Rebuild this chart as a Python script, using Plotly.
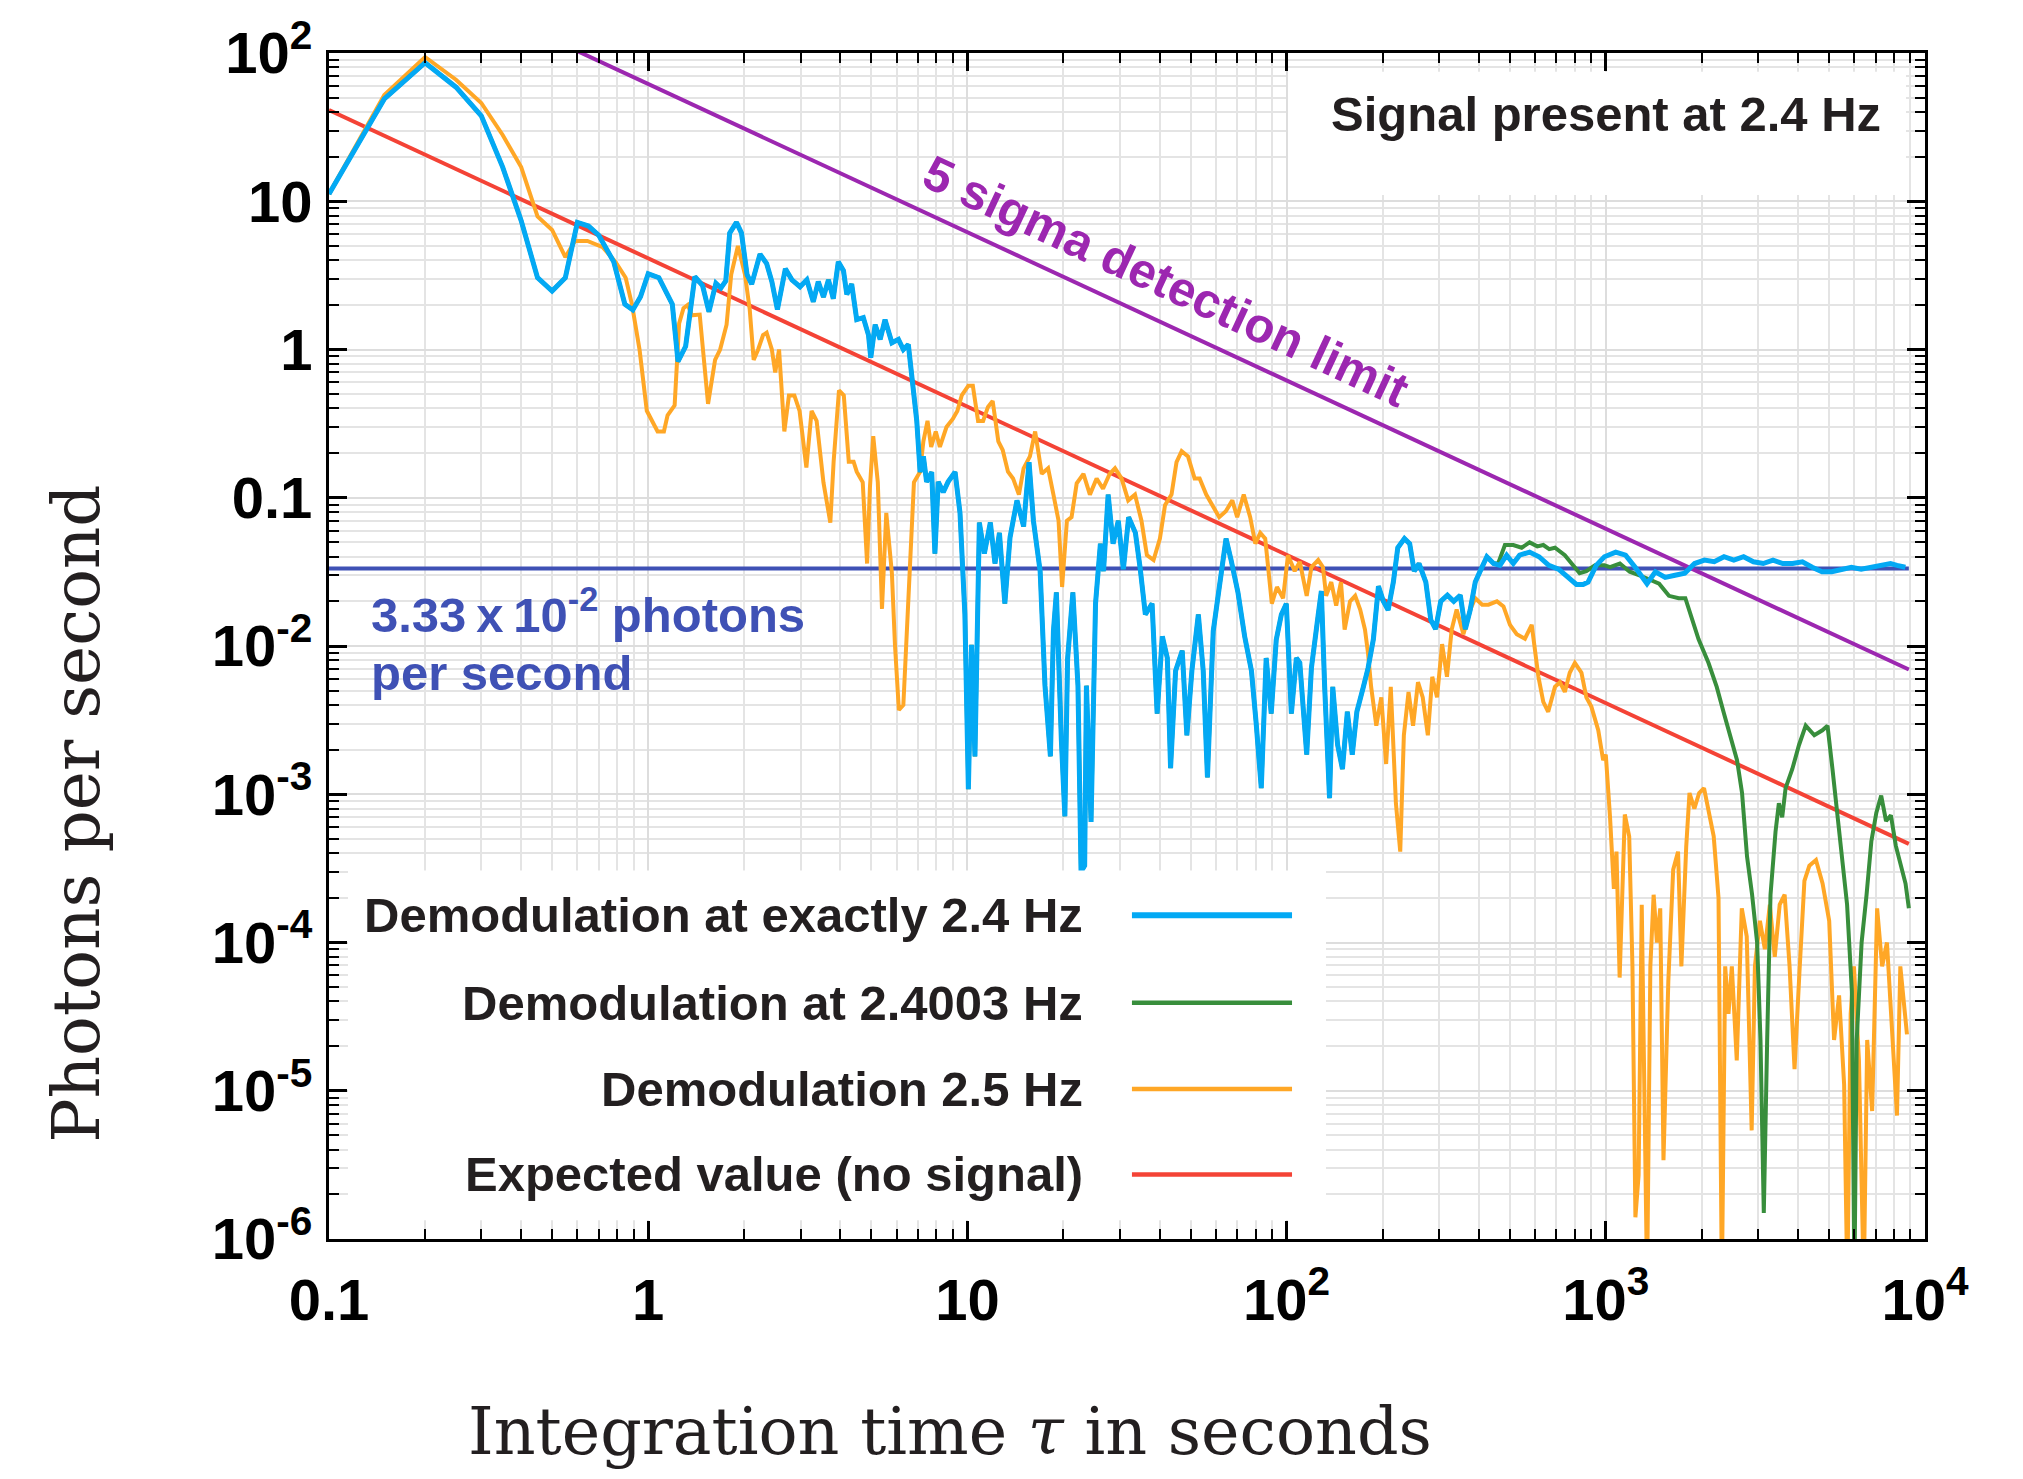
import plotly.graph_objects as go

# ---------------- data ----------------
blue_tau = [0.1, 0.149, 0.2, 0.25, 0.30, 0.35, 0.40, 0.45, 0.50, 0.55, 0.60, 0.65, 0.70, 0.78, 0.845, 0.895,
            0.946, 1.0, 1.08, 1.19, 1.24, 1.31, 1.40, 1.48, 1.55, 1.63, 1.69, 1.75,
            1.80, 1.89, 1.96, 2.04, 2.11, 2.24, 2.35, 2.44, 2.54, 2.69, 2.82, 2.99, 3.14, 3.29, 3.41, 3.54,
            3.67, 3.80, 3.94, 4.09, 4.19, 4.34, 4.50, 4.72, 4.90, 4.98, 5.14, 5.33, 5.52, 5.80, 6.08, 6.30,
            6.53, 6.70, 6.94, 7.11, 7.28, 7.45, 7.73, 7.91, 8.1, 8.4, 8.7, 9.15, 9.48, 9.82, 10.07, 10.3,
            10.56, 10.9, 11.3, 11.8, 12.2, 12.6, 13.1, 13.6, 14.3, 15.0, 15.6, 16.1, 16.9, 17.5, 18.2, 18.6,
            19.0, 19.7, 20.2, 20.6, 21.4, 22.2, 22.7, 23.3, 23.6, 24.4, 25.2, 26.1, 26.7, 27.6, 28.6, 29.7,
            30.8, 32.0, 33.6, 34.8, 36.1, 37.9, 39.3, 40.8, 42.3, 43.3, 44.9, 47.1, 48.7, 50.5, 52.9, 54.8,
            56.5, 58.9, 61.7, 64.6, 67.0, 70.4, 73.9, 77.6, 80.3, 83.3, 86.3, 89.5, 92.8, 96.3, 99.8, 103.5,
            107.3, 110, 115.6, 119.6, 125.6, 128.5, 131.6, 136.3, 139.5, 144.5, 149.6, 155, 160.6, 166, 174,
            180, 187, 194, 201, 208, 216, 223, 234, 243, 251, 260, 273, 283, 293, 304, 319, 334, 350, 363,
            376, 390, 404, 424, 445, 466, 489, 513, 537, 577, 618, 663, 711, 762, 809, 849, 880, 933, 990,
            1074, 1153, 1236, 1346, 1430, 1535, 1648, 1768, 1898, 2037, 2186, 2346, 2518, 2702, 2900, 3113,
            3341, 3585, 3848, 4130, 4432, 4757, 5105, 5479, 5880, 6311, 6773, 7269, 7801, 8172, 8680]
blue_val = [11.2, 49, 86, 58.8, 37.7, 17, 7.4, 3.05, 2.48, 3.05, 7.2, 6.8, 5.9, 3.9, 2.02, 1.85,
            2.27, 3.24, 3.05, 2.02, 0.83, 1.05, 3.1, 2.7, 1.8, 2.8, 2.6, 2.9,
            6.1, 7.2, 6.1, 3.2, 2.76, 4.4, 3.8, 2.87, 1.86, 3.5, 2.95, 2.65, 2.95, 2.1, 2.87, 2.26,
            2.95, 2.2, 3.9, 3.4, 2.35, 2.76, 1.59, 1.64, 1.25, 0.88, 1.47, 1.17, 1.59, 1.11, 1.17, 1.0,
            1.08, 0.62, 0.33, 0.149, 0.19, 0.128, 0.149, 0.042, 0.128, 0.109, 0.128, 0.149, 0.079, 0.0164, 0.00108, 0.0102,
            0.0018, 0.068, 0.042, 0.068, 0.036, 0.058, 0.0193, 0.054, 0.096, 0.064, 0.174, 0.07, 0.032, 0.0054, 0.0018, 0.0126,
            0.023, 0.0023, 0.00071, 0.0082, 0.023, 0.0054, 0.0003, 0.00033, 0.0054, 0.00065, 0.0193, 0.049, 0.032, 0.105, 0.049, 0.07,
            0.033, 0.074, 0.058, 0.033, 0.0163, 0.0193, 0.0035, 0.0116, 0.0083, 0.0015, 0.0068, 0.0093, 0.0025, 0.0068, 0.0163, 0.0068,
            0.0013, 0.0126, 0.027, 0.053, 0.038, 0.023, 0.0116, 0.0068, 0.003, 0.0011, 0.0083, 0.0035, 0.011, 0.0163, 0.0193, 0.0035,
            0.0083, 0.0077, 0.00185, 0.0071, 0.0162, 0.0235, 0.0053, 0.00094, 0.0053, 0.00215, 0.00148, 0.0036, 0.00185, 0.0036, 0.0053,
            0.0071, 0.0111, 0.0253, 0.02, 0.0175, 0.027, 0.046, 0.053, 0.049, 0.032, 0.036, 0.027, 0.015, 0.013, 0.02, 0.022, 0.02, 0.022, 0.013,
            0.0175, 0.027, 0.032, 0.04, 0.036, 0.035, 0.041, 0.036, 0.041, 0.043, 0.04, 0.035, 0.033, 0.029, 0.026, 0.026, 0.027, 0.035, 0.04,
            0.043, 0.041, 0.034, 0.0263, 0.0317, 0.029, 0.03, 0.031, 0.036, 0.038, 0.037, 0.04, 0.038, 0.04, 0.037, 0.036,
            0.038, 0.036, 0.036, 0.037, 0.034, 0.0317, 0.0317, 0.033, 0.034, 0.033, 0.034, 0.035, 0.036, 0.035, 0.034]

# 2.4003 Hz coincides with the 2.4 Hz curve up to ~450 s, then departs
green_split_tau = 450
green_tail_tau = [460, 483, 513, 545, 577, 610, 637, 665, 693, 744, 781, 828, 869, 925, 990, 1031, 1107, 1188,
                  1275, 1369, 1469, 1577, 1692, 1775, 1840, 1953, 2097, 2226, 2337, 2454, 2577, 2672, 2770,
                  2873, 2979, 3052, 3126, 3203, 3281, 3402, 3485, 3570, 3658, 3840, 4030, 4230, 4500, 4770,
                  4950, 5130, 5310, 5500, 5700, 5900, 6010, 6110, 6330, 6560, 6790, 7040, 7290, 7550, 7820,
                  8100, 8390, 8690, 8900]
green_tail_val = [0.036, 0.048, 0.048, 0.046, 0.05, 0.047, 0.048, 0.045, 0.046, 0.041, 0.036, 0.031, 0.032, 0.035,
                  0.035, 0.034, 0.036, 0.0317, 0.03, 0.028, 0.0263, 0.0218, 0.021, 0.021, 0.0168, 0.0111, 0.0077,
                  0.0053, 0.0036, 0.0025, 0.0017, 0.00102, 0.00038, 0.00021, 1.0e-4, 2.2e-5, 1.5e-6, 2.2e-5,
                  0.00021, 0.00056, 0.00087, 0.0007, 0.0011, 0.00148, 0.00215, 0.0029, 0.0025, 0.0027, 0.0029,
                  0.00148, 0.00075, 0.00041, 0.00018, 4.7e-5, 5e-7, 2.2e-5, 1e-4, 0.00021, 0.00048, 0.00075,
                  0.00098, 0.00066, 0.00072, 0.00045, 0.00033, 0.00025, 0.00017]

orange_tau = [0.1, 0.149, 0.2, 0.25, 0.30, 0.35, 0.40, 0.45, 0.50, 0.55, 0.59, 0.645, 0.72, 0.79, 0.85, 0.89,
              0.94, 0.99, 1.07, 1.12, 1.15, 1.21, 1.25, 1.29, 1.33, 1.37, 1.45, 1.54, 1.62, 1.68, 1.76, 1.82,
              1.91, 2.01, 2.08, 2.14, 2.21, 2.29, 2.35, 2.44, 2.50, 2.57, 2.67, 2.76, 2.87, 2.98, 3.13, 3.25,
              3.37, 3.54, 3.72, 3.81, 3.96, 4.1, 4.25, 4.4, 4.5, 4.7, 4.85, 4.95, 5.07, 5.24, 5.4, 5.57, 5.8,
              5.93, 6.1, 6.3, 6.5, 6.7, 6.8, 7.1, 7.28, 7.5, 7.7, 7.96, 8.2, 8.6, 9.0, 9.3, 9.6, 10.07, 10.4,
              10.8, 11.2, 11.6, 12.0, 12.5, 12.9, 13.4, 13.9, 14.5, 15.0, 15.7, 16.3, 17.1, 17.9, 18.6, 19.3,
              19.8, 20.5, 21.2, 22.0, 23.1, 24.2, 25.4, 26.6, 27.9, 29.0, 30.4, 31.9, 33.5, 35.1, 36.5, 38.3,
              40.1, 41.6, 43.6, 45.2, 46.9, 49.1, 51.5, 53.4, 56.0, 58.7, 61.5, 64.5, 67.6, 70.0, 73.4, 76.9,
              79.8, 82.7, 85.7, 89.9, 93.3, 97.5, 101, 106, 110, 115.6, 119.6, 125.6, 130, 133, 138, 143, 148,
              152, 158, 164, 170, 176, 180, 184, 191, 198, 205, 212, 220, 227, 233, 241, 249, 258, 267, 277,
              286, 296, 307, 318, 329, 341, 358, 376, 390, 410, 429, 456, 478, 501, 526, 558, 586, 615, 637,
              660, 693, 718, 744, 771, 800, 839, 869, 901, 947, 981, 1000, 1031, 1060, 1080, 1105, 1147, 1184,
              1212, 1238, 1267, 1296, 1347, 1379, 1412, 1446, 1481, 1516, 1570, 1626, 1684, 1725, 1786, 1829,
              1894, 1961, 2031, 2103, 2178, 2255, 2310, 2366, 2423, 2482, 2572, 2667, 2764, 2864, 2932, 3040,
              3150, 3265, 3383, 3506, 3633, 3765, 3902, 4044, 4190, 4343, 4554, 4776, 5010, 5190, 5380, 5580,
              5710, 5850, 5990, 6210, 6430, 6590, 6830, 7080, 7340, 7600, 7880, 8170, 8370, 8580, 8780]
orange_val = [11.2, 52, 94, 66, 46, 28, 17, 7.9, 6.4, 4.2, 5.4, 5.4, 4.9, 3.9, 3.05, 2.0,
              0.99, 0.386, 0.28, 0.28, 0.36, 0.42, 1.5, 1.9, 2.0, 1.7, 1.72, 0.43, 0.85, 1.0, 1.47, 3.2,
              5.0, 3.2, 1.86, 0.85, 1.0, 1.25, 1.3, 1.0, 0.70, 1.0, 0.28, 0.49, 0.49, 0.385, 0.16, 0.385,
              0.33, 0.127, 0.068, 0.175, 0.53, 0.49, 0.175, 0.175, 0.15, 0.127, 0.036, 0.117, 0.26, 0.127, 0.0178, 0.079, 0.031,
              0.0102, 0.0037, 0.004, 0.0164, 0.068, 0.127, 0.149, 0.24, 0.33, 0.22, 0.28, 0.22, 0.3, 0.34, 0.385, 0.49, 0.57, 0.57,
              0.33, 0.33, 0.41, 0.45, 0.24, 0.21, 0.15, 0.135, 0.105, 0.158, 0.19, 0.28, 0.145, 0.158, 0.105, 0.07,
              0.025, 0.07, 0.074, 0.125, 0.145, 0.105, 0.135, 0.115, 0.145, 0.158, 0.135, 0.096, 0.105, 0.07, 0.041, 0.038,
              0.053, 0.089, 0.105, 0.174, 0.206, 0.19, 0.135, 0.135, 0.105, 0.089, 0.074, 0.081, 0.096, 0.074, 0.105, 0.074,
              0.049, 0.058, 0.053, 0.0193, 0.025, 0.021, 0.041, 0.032, 0.037, 0.0218, 0.034, 0.038, 0.034, 0.0218, 0.027, 0.0187, 0.027,
              0.0129, 0.02, 0.0218, 0.0176, 0.0129, 0.0089, 0.0053, 0.0029, 0.0045, 0.0016, 0.0053, 0.00087, 0.00041, 0.0025, 0.0049, 0.0029, 0.0057, 0.0045, 0.0025,
              0.0062, 0.0045, 0.0103, 0.0062, 0.0129, 0.0176, 0.012, 0.0176, 0.021, 0.019, 0.019, 0.02, 0.0185, 0.0139, 0.012, 0.0112, 0.0139, 0.0062, 0.0042,
              0.0036, 0.0053, 0.0057, 0.0049, 0.0066, 0.0077, 0.0066, 0.0045, 0.0039, 0.0027, 0.0017, 0.00185, 0.0007, 0.00023, 0.00041, 5.8e-5, 0.00073, 0.00052,
              6.9e-5, 1.4e-6, 2.7e-6, 0.00018, 5e-7, 6.9e-5, 0.00021, 1e-4, 0.00017, 3.4e-6, 5.5e-5, 0.00031, 0.00041, 6.9e-5, 0.00044, 0.00102,
              0.0008, 0.00102, 0.0011, 0.00075, 0.00052, 0.0002, 5e-7, 6.9e-5, 3.3e-5, 6.9e-5, 1.6e-5, 0.00017, 1.1e-4, 5.4e-6, 6.9e-5, 0.00014,
              9e-5, 0.00018, 8e-5, 0.00018, 0.00021, 6.9e-5, 1.4e-5, 6.4e-5, 0.00026, 0.00033, 0.00036, 0.00025, 0.00014, 2.2e-5, 4.4e-5, 1.1e-5,
              5e-7, 3.3e-5, 6.9e-5, 1.6e-5, 5e-7, 2.2e-5, 7.3e-6, 0.00017, 6.9e-5, 1e-4, 2.9e-5, 6.8e-6, 6.9e-5, 3.8e-5, 2.4e-5]

expected_tau = [0.1, 8900]
expected_val = [41.2, 4.63e-4]
limit_tau = [0.6, 8900]
limit_val = [103, 0.00694]
level_tau = [0.1, 8900]
level_val = [0.0333, 0.0333]

x_tickvals = [0.1, 1, 10, 100, 1000, 10000]
x_ticktext = ["0.1", "1", "10", "10<sup>2</sup>", "10<sup>3</sup>", "10<sup>4</sup>"]
y_tickvals = [1e-6, 1e-5, 1e-4, 1e-3, 1e-2, 0.1, 1, 10, 100]
y_ticktext = ["10<sup>-6</sup>", "10<sup>-5</sup>", "10<sup>-4</sup>", "10<sup>-3</sup>", "10<sup>-2</sup>",
              "0.1", "1", "10", "10<sup>2</sup>"]

legend_labels = ["Demodulation at exactly 2.4 Hz", "Demodulation at 2.4003 Hz",
                 "Demodulation 2.5 Hz", "Expected value (no signal)"]

# ---------------- styling ----------------
C_BLUE = "#03A9F4"
C_GREEN = "#388E3C"
C_ORANGE = "#FFA726"
C_RED = "#F44336"
C_PURPLE = "#9C27B0"
C_INDIGO = "#3F51B5"
C_TEXT = "#231F20"
SANS = "Liberation Sans, Arial, Helvetica, sans-serif"
SERIF = "DejaVu Serif, serif"

green_tau = [t for t in blue_tau if t <= green_split_tau] + green_tail_tau
green_val = [v for t, v in zip(blue_tau, blue_val) if t <= green_split_tau] + green_tail_val

fig = go.Figure()
fig.add_trace(go.Scatter(x=level_tau, y=level_val, mode="lines", line=dict(color=C_INDIGO, width=4), hoverinfo="skip"))
fig.add_trace(go.Scatter(x=expected_tau, y=expected_val, mode="lines", line=dict(color=C_RED, width=4), name=legend_labels[3]))
fig.add_trace(go.Scatter(x=limit_tau, y=limit_val, mode="lines", line=dict(color=C_PURPLE, width=4), hoverinfo="skip"))
fig.add_trace(go.Scatter(x=orange_tau, y=orange_val, mode="lines", line=dict(color=C_ORANGE, width=4), name=legend_labels[2]))
fig.add_trace(go.Scatter(x=green_tau, y=green_val, mode="lines", line=dict(color=C_GREEN, width=4), name=legend_labels[1]))
fig.add_trace(go.Scatter(x=blue_tau, y=blue_val, mode="lines", line=dict(color=C_BLUE, width=5), name=legend_labels[0]))


def minor_vals(lo, hi):
    out = []
    for e in range(lo, hi):
        for m in range(2, 10):
            out.append(m * 10.0 ** e)
    return out


axis_common = dict(
    type="log", showline=True, linecolor="black", linewidth=3, mirror="allticks",
    ticks="inside", ticklen=18, tickwidth=3, tickcolor="black",
    showgrid=True, gridcolor="#dddddd", gridwidth=2, zeroline=False,
    tickfont=dict(family=SANS, size=58, color="black", weight="bold"),
)

fig.update_xaxes(
    range=[-1, 4], tickmode="array", tickvals=x_tickvals, ticktext=x_ticktext,
    ticklabelstandoff=8,
    minor=dict(tickmode="array", tickvals=minor_vals(-1, 4), ticks="inside", ticklen=10, tickwidth=2,
               tickcolor="black", showgrid=True, gridcolor="#e4e4e4", gridwidth=2),
    **axis_common,
)
fig.update_yaxes(
    range=[-6, 2], tickmode="array", tickvals=y_tickvals, ticktext=y_ticktext,
    ticklabelstandoff=2,
    minor=dict(tickmode="array", tickvals=minor_vals(-6, 2), ticks="inside", ticklen=10, tickwidth=2,
               tickcolor="black", showgrid=True, gridcolor="#e4e4e4", gridwidth=2),
    **axis_common,
)

# panels that hide the grid; kept clear of the inside tick marks
tick_px_x = 19 / 1596
tick_px_y = 19 / 1194
shapes = [
    dict(type="rect", xref="paper", yref="paper", x0=tick_px_x, x1=0.6247, y0=tick_px_y, y1=0.3107,
         fillcolor="white", line=dict(width=0), layer="above"),
    dict(type="rect", xref="paper", yref="paper", x0=0.6009, x1=1.0 - tick_px_x, y0=0.8802, y1=1.0 - tick_px_y,
         fillcolor="white", line=dict(width=0), layer="above"),
]
legend_y = [0.2730, 0.1993, 0.1265, 0.0544]
legend_colors = [C_BLUE, C_GREEN, C_ORANGE, C_RED]
legend_widths = [6, 4.5, 4.5, 4.5]
for yy, col, wd in zip(legend_y, legend_colors, legend_widths):
    shapes.append(dict(type="line", xref="paper", yref="paper", x0=0.5031, x1=0.6034, y0=yy, y1=yy,
                       line=dict(color=col, width=wd), layer="above"))

annotations = []
for yy, lab in zip(legend_y, legend_labels):
    annotations.append(dict(xref="paper", yref="paper", x=0.4737, y=yy, xanchor="right", yanchor="middle",
                            text=lab, showarrow=False,
                            font=dict(family=SANS, size=49, color=C_TEXT, weight="bold")))
annotations += [
    dict(xref="paper", yref="paper", x=0.8001, y=0.9484, xanchor="center", yanchor="middle",
         text="Signal present at 2.4 Hz", showarrow=False,
         font=dict(family=SANS, size=49, color=C_TEXT, weight="bold")),
    dict(xref="paper", yref="paper", x=0.5244, y=0.8080, xanchor="center", yanchor="middle",
         text="5 sigma detection limit", textangle=25, showarrow=False,
         font=dict(family=SANS, size=49, color=C_PURPLE, weight="bold")),
    dict(xref="paper", yref="paper", x=0.0251, y=0.5293, xanchor="left", yanchor="middle",
         text="3.33\u2009x\u200910<sup>-2</sup> photons", showarrow=False,
         font=dict(family=SANS, size=49, color=C_INDIGO, weight="bold")),
    dict(xref="paper", yref="paper", x=0.0251, y=0.4770, xanchor="left", yanchor="middle",
         text="per second", showarrow=False,
         font=dict(family=SANS, size=49, color=C_INDIGO, weight="bold")),
    dict(xref="paper", yref="paper", x=-0.1579, y=0.3593, xanchor="center", yanchor="middle",
         text="Photons per second", textangle=-90, showarrow=False,
         font=dict(family=SERIF, size=66, color=C_TEXT)),
    dict(xref="paper", yref="paper", x=0.389, y=-0.1625, xanchor="center", yanchor="middle",
         text="Integration time <i>τ</i> in seconds", showarrow=False,
         font=dict(family=SERIF, size=65, color=C_TEXT)),
]

fig.update_layout(
    width=2023, height=1479, autosize=False,
    margin=dict(l=329, r=98, t=45, b=240),
    paper_bgcolor="white", plot_bgcolor="white",
    showlegend=False,
    shapes=shapes, annotations=annotations,
)

fig.write_html("out.html")
